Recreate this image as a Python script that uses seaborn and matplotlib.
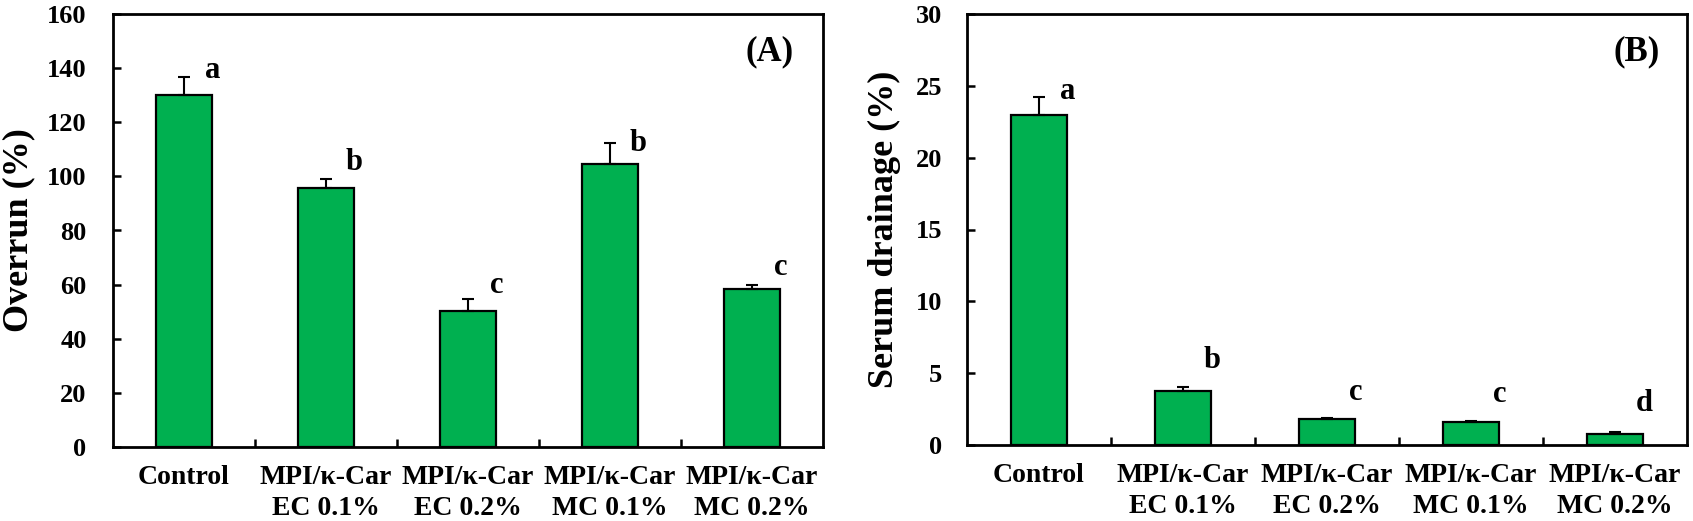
import matplotlib
matplotlib.use("Agg")
import matplotlib.pyplot as plt
import seaborn as sns
import pandas as pd
import numpy as np

categories = ["Control", "MPI/κ-Car\nEC 0.1%", "MPI/κ-Car\nEC 0.2%",
              "MPI/κ-Car\nMC 0.1%", "MPI/κ-Car\nMC 0.2%"]

overrun = [130.0, 95.8, 50.2, 104.5, 58.5]
overrun_err = [6.6, 3.3, 4.6, 8.0, 1.4]
overrun_letters = ["a", "b", "c", "b", "c"]
overrun_letter_y = [136.3, 102.2, 56.9, 109.5, 63.4]

drainage = [22.95, 3.77, 1.79, 1.58, 0.80]
drainage_err = [1.25, 0.30, 0.12, 0.09, 0.08]
drainage_letters = ["a", "b", "c", "c", "d"]
drainage_letter_y = [24.05, 5.35, 3.14, 3.0, 2.37]

panel_labels = ["(A)", "(B)"]
ylabels = ["Overrun (%)", "Serum drainage (%)"]
yticks_a = [0, 20, 40, 60, 80, 100, 120, 140, 160]
yticks_b = [0, 5, 10, 15, 20, 25, 30]

sns.set_theme(style="ticks")
plt.rcParams["font.family"] = ["Liberation Serif", "DejaVu Serif"]
plt.rcParams["font.weight"] = "bold"
plt.rcParams["axes.labelweight"] = "bold"
for k in ["text.color", "axes.labelcolor", "xtick.color", "ytick.color", "axes.edgecolor"]:
    plt.rcParams[k] = "black"

GREEN = "#00B050"

fig = plt.figure(figsize=(16.93, 5.21), dpi=100)
axA = fig.add_axes([113 / 1693, 1 - 447 / 521, (823 - 113) / 1693, (447 - 14) / 521])
axB = fig.add_axes([967 / 1693, 1 - 445 / 521, (1687 - 967) / 1693, (445 - 14) / 521])

panels = [
    (axA, overrun, overrun_err, overrun_letters, overrun_letter_y, yticks_a, 19, -0.109),
    (axB, drainage, drainage_err, drainage_letters, drainage_letter_y, yticks_b, 18, -0.091),
]

for i, (ax, vals, errs, letters, ly, yt, ypad, lx) in enumerate(panels):
    df = pd.DataFrame({"cat": categories, "val": vals})
    sns.barplot(data=df, x="cat", y="val", ax=ax, color=GREEN, saturation=1,
                width=0.39, edgecolor="black", linewidth=1.6, errorbar=None)
    pos = np.arange(len(categories))
    ax.errorbar(pos, vals, yerr=[np.zeros(len(errs)), errs], fmt="none",
                ecolor="black", elinewidth=1.5, capsize=4.3, capthick=1.5, zorder=3)
    for p, t, y in zip(pos, letters, ly):
        ax.text(p + 0.2, y, t, ha="center", va="baseline", fontsize=22,
                fontweight="bold", color="black")
    ax.text(0.925 if i == 0 else 0.93, 0.912, panel_labels[i], transform=ax.transAxes,
            ha="center", va="center", fontsize=25, fontweight="bold", color="black")
    ax.set_ylim(yt[0], yt[-1])
    ax.set_yticks(yt)
    ax.set_xlim(-0.5, len(categories) - 0.5)
    ax.set_xticks(pos)
    ax.set_xticklabels(categories, linespacing=1.32)
    ax.set_xticks(pos[:-1] + 0.5, minor=True)
    ax.tick_params(axis="x", which="major", length=0, pad=13, labelsize=20, labelcolor="black")
    ax.tick_params(axis="x", which="minor", direction="in", length=6, width=1.8, color="black")
    ax.tick_params(axis="y", direction="in", length=6, width=1.8, pad=ypad, labelsize=19,
                   color="black", labelcolor="black")
    for lab in ax.get_xticklabels() + ax.get_yticklabels():
        lab.set_fontweight("bold")
    ax.set_xlabel("")
    ax.set_ylabel(ylabels[i], fontsize=26, fontweight="bold", color="black")
    ax.yaxis.set_label_coords(lx, 0.5)
    for s in ax.spines.values():
        s.set_visible(True)
        s.set_linewidth(2.0)
        s.set_color("black")

fig.savefig("out.png", dpi=100)
